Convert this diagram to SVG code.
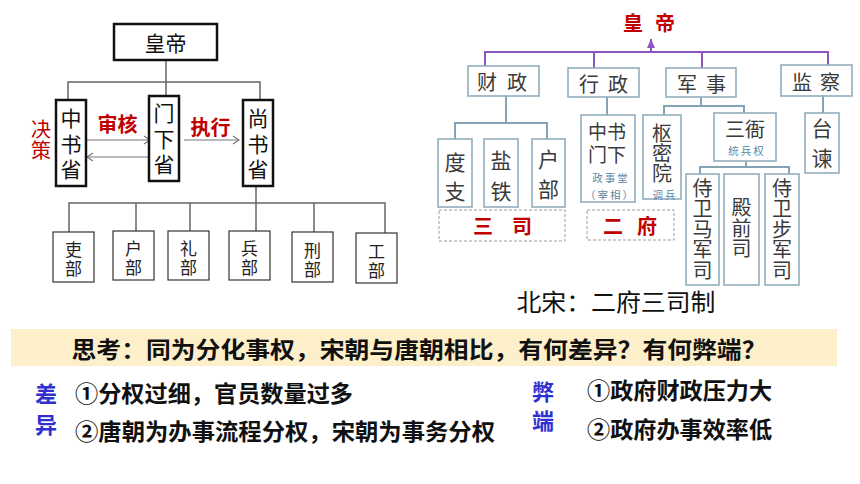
<svg xmlns="http://www.w3.org/2000/svg" width="860" height="484" viewBox="0 0 860 484">
<style>
text{font-family:"Noto Sans CJK SC","Noto Sans",sans-serif;dominant-baseline:central;text-anchor:middle}
.lbox{fill:#fff;stroke:#111;stroke-width:2.5}
.sbox{fill:#fff;stroke:#333;stroke-width:1.2}
.ltxt{font-size:21px;fill:#111}
.stxt{font-size:17px;fill:#222}
.red{fill:#c00000;font-weight:bold}
.conn{fill:none;stroke:#666;stroke-width:1.5}
.arr{fill:none;stroke:#777;stroke-width:1.2}
.rbox{fill:#fff;stroke:#93adbd;stroke-width:1.6}
.rtxt{font-size:20px;fill:#3a3a3a}
.small{font-size:10.5px;fill:#5b86a6;letter-spacing:2px}
.rconn{fill:none;stroke:#86a3b5;stroke-width:2}
.pconn{fill:none;stroke:#8e55c2;stroke-width:2}
.dash{fill:none;stroke:#9a9a9a;stroke-width:1;stroke-dasharray:3 2}
.q{font-size:23px;font-weight:bold;fill:#111}
.blue{font-size:22px;font-weight:bold;fill:#3030d0}
</style>
<defs>
<marker id="open" markerWidth="10" markerHeight="10" refX="8" refY="5" orient="auto" markerUnits="userSpaceOnUse"><path d="M2,1 L8,5 L2,9" fill="none" stroke="#777" stroke-width="1.2"/></marker>
<marker id="tri" markerWidth="10" markerHeight="8" refX="9" refY="4" orient="auto" markerUnits="userSpaceOnUse"><path d="M0,0 L9,4 L0,8 z" fill="#8e55c2"/></marker>
</defs>
<rect width="860" height="484" fill="#fff"/>

<!-- LEFT: Tang system -->
<g id="connectors-left">
<path class="conn" d="M166,60 V96"/>
<path class="conn" d="M68,100 V82 H260 V100"/>
<path class="arr" d="M86,140 H150" marker-end="url(#open)"/>
<path class="arr" d="M148,157 H87" marker-end="url(#open)"/>
<path class="arr" d="M184,140 H239" marker-end="url(#open)"/>
<path class="conn" d="M256,186 V231"/>
<path class="conn" d="M69,232 V203 H385 V233"/>
<path class="conn" d="M136,203 V231"/>
<path class="conn" d="M190,203 V233"/>
<path class="conn" d="M314,203 V234"/>
</g>
<g id="emperor-left">
<rect class="lbox" x="114" y="24" width="103" height="36"/>
<text class="ltxt" x="165.5" y="42">皇帝</text>
</g>
<g id="zhongshu">
<rect class="lbox" x="56" y="100" width="30" height="86"/>
<text class="ltxt" x="71 71 71" y="117 143 168">中书省</text>
</g>
<g id="menxia">
<rect class="lbox" x="149" y="96" width="30" height="85"/>
<text class="ltxt" x="164 164 164" y="112 138 163">门下省</text>
</g>
<g id="shangshu">
<rect class="lbox" x="243" y="100" width="30" height="86"/>
<text class="ltxt" x="258 258 258" y="117 143 168">尚书省</text>
</g>
<g id="labels-left">
<text class="red" style="font-size:20px;font-weight:normal" x="41 41" y="128 149">决策</text>
<text class="red" style="font-size:20px" x="117.5" y="123">审核</text>
<text class="red" style="font-size:20px" x="210.5" y="126">执行</text>
</g>
<g id="li-bu"><rect class="sbox" x="53" y="232" width="41" height="50"/><text class="stxt" x="73.5 73.5" y="248 267">吏部</text></g>
<g id="hu-bu"><rect class="sbox" x="113" y="231" width="41" height="49"/><text class="stxt" x="133.5 133.5" y="247 266">户部</text></g>
<g id="li-bu2"><rect class="sbox" x="168" y="231" width="41" height="49"/><text class="stxt" x="188.5 188.5" y="247 266">礼部</text></g>
<g id="bing-bu"><rect class="sbox" x="229" y="231" width="41" height="49"/><text class="stxt" x="249.5 249.5" y="247 266">兵部</text></g>
<g id="xing-bu"><rect class="sbox" x="292" y="232" width="41" height="50"/><text class="stxt" x="312.5 312.5" y="249 268">刑部</text></g>
<g id="gong-bu"><rect class="sbox" x="356" y="233" width="41" height="50"/><text class="stxt" x="376.5 376.5" y="250 269">工部</text></g>

<!-- RIGHT: Song system -->
<g id="connectors-right">
<path class="pconn" d="M485,66 V52 H828 V65"/>
<path class="pconn" d="M594,52 V68"/>
<path class="pconn" d="M702,52 V68"/>
<path class="pconn" d="M651,52 V39" marker-end="url(#tri)"/>
<path class="rconn" d="M506,96 V123"/>
<path class="rconn" d="M455,139 V123 H547 V139"/>
<path class="rconn" d="M607,97 V115"/>
<path class="rconn" d="M701,97 V106"/>
<path class="rconn" d="M664,115 V106 H744 V113"/>
<path class="rconn" d="M746,161 V167"/>
<path class="rconn" d="M700,174 V167 H789 V174"/>
<path class="rconn" d="M823,96 V113"/>
</g>
<g id="emperor-right">
<text class="red" style="font-size:20px" x="633 665" y="22">皇帝</text>
</g>
<g id="caizheng"><rect class="rbox" x="468" y="66" width="71" height="30"/><text class="rtxt" x="487 517" y="81">财政</text></g>
<g id="xingzheng"><rect class="rbox" x="568" y="68" width="71" height="29"/><text class="rtxt" x="589 618" y="83">行政</text></g>
<g id="junshi"><rect class="rbox" x="666" y="68" width="70" height="29"/><text class="rtxt" x="687 716" y="83">军事</text></g>
<g id="jiancha"><rect class="rbox" x="781" y="65" width="71" height="31"/><text class="rtxt" x="802 830" y="81">监察</text></g>
<g id="duzhi"><rect class="rbox" x="438" y="139" width="34" height="68"/><text class="rtxt" style="font-size:21px" x="455 455" y="161 190">度支</text></g>
<g id="yantie"><rect class="rbox" x="484" y="139" width="34" height="68"/><text class="rtxt" style="font-size:21px" x="501 501" y="159 190">盐铁</text></g>
<g id="hubu-song"><rect class="rbox" x="532" y="139" width="33" height="68"/><text class="rtxt" style="font-size:21px" x="548.5 548.5" y="158 188">户部</text></g>
<g id="sansi"><rect class="dash" x="439" y="210" width="126" height="31"/><text class="red" style="font-size:20px" x="483 522" y="225">三司</text></g>
<g id="zhongshumenxia"><rect class="rbox" x="581" y="115" width="54" height="87"/>
<text class="rtxt" style="font-size:19px"><tspan x="607" y="130">中书</tspan><tspan x="607" y="153">门下</tspan></text>
<text class="small" x="611" y="177">政事堂</text><text class="small" x="610" y="194">（宰相）</text></g>
<g id="shumiyuan"><rect class="rbox" x="643" y="115" width="38" height="84"/>
<text class="rtxt" x="662 662 662" y="132 152 172">枢密院</text><text class="small" x="665" y="194">调兵</text></g>
<g id="erfu"><rect class="dash" x="587" y="210" width="87" height="30"/><text class="red" style="font-size:20px" x="613 647" y="225">二府</text></g>
<g id="sanya"><rect class="rbox" x="714" y="113" width="62" height="48"/>
<text class="rtxt" x="745" y="128">三衙</text><text class="small" x="747" y="150">统兵权</text></g>
<g id="taijian"><rect class="rbox" x="805" y="113" width="34" height="60"/><text class="rtxt" style="font-size:21px" x="822 822" y="127 157">台谏</text></g>
<g id="majunsi"><rect class="rbox" x="686" y="174" width="33" height="111"/><text class="rtxt" x="702.5 702.5 702.5 702.5 702.5" y="187 207 228 248 269">侍卫马军司</text></g>
<g id="dianqiansi"><rect class="rbox" x="724" y="174" width="35" height="111"/><text class="rtxt" x="741.5 741.5 741.5" y="206 227 247">殿前司</text></g>
<g id="bujunsi"><rect class="rbox" x="765" y="174" width="34" height="111"/><text class="rtxt" x="782 782 782 782 782" y="187 207 228 248 269">侍卫步军司</text></g>
<text x="616" y="300" style="font-size:24px;fill:#111" textLength="199" lengthAdjust="spacingAndGlyphs">北宋：二府三司制</text>

<!-- BOTTOM -->
<rect x="11" y="329" width="826" height="37" fill="#fdefc9"/>
<text class="q" x="419" y="348" textLength="695" lengthAdjust="spacingAndGlyphs">思考：同为分化事权，宋朝与唐朝相比，有何差异？有何弊端？</text>
<text class="blue" x="46 46" y="392 423">差异</text>
<text class="q" x="75" y="392" style="text-anchor:start" textLength="278" lengthAdjust="spacingAndGlyphs">①分权过细，官员数量过多</text>
<text class="q" x="75" y="430" style="text-anchor:start" textLength="420" lengthAdjust="spacingAndGlyphs">②唐朝为办事流程分权，宋朝为事务分权</text>
<text class="blue" x="543 543" y="390 419">弊端</text>
<text class="q" x="587" y="389" style="text-anchor:start" textLength="185" lengthAdjust="spacingAndGlyphs">①政府财政压力大</text>
<text class="q" x="587" y="428" style="text-anchor:start" textLength="185" lengthAdjust="spacingAndGlyphs">②政府办事效率低</text>
</svg>
